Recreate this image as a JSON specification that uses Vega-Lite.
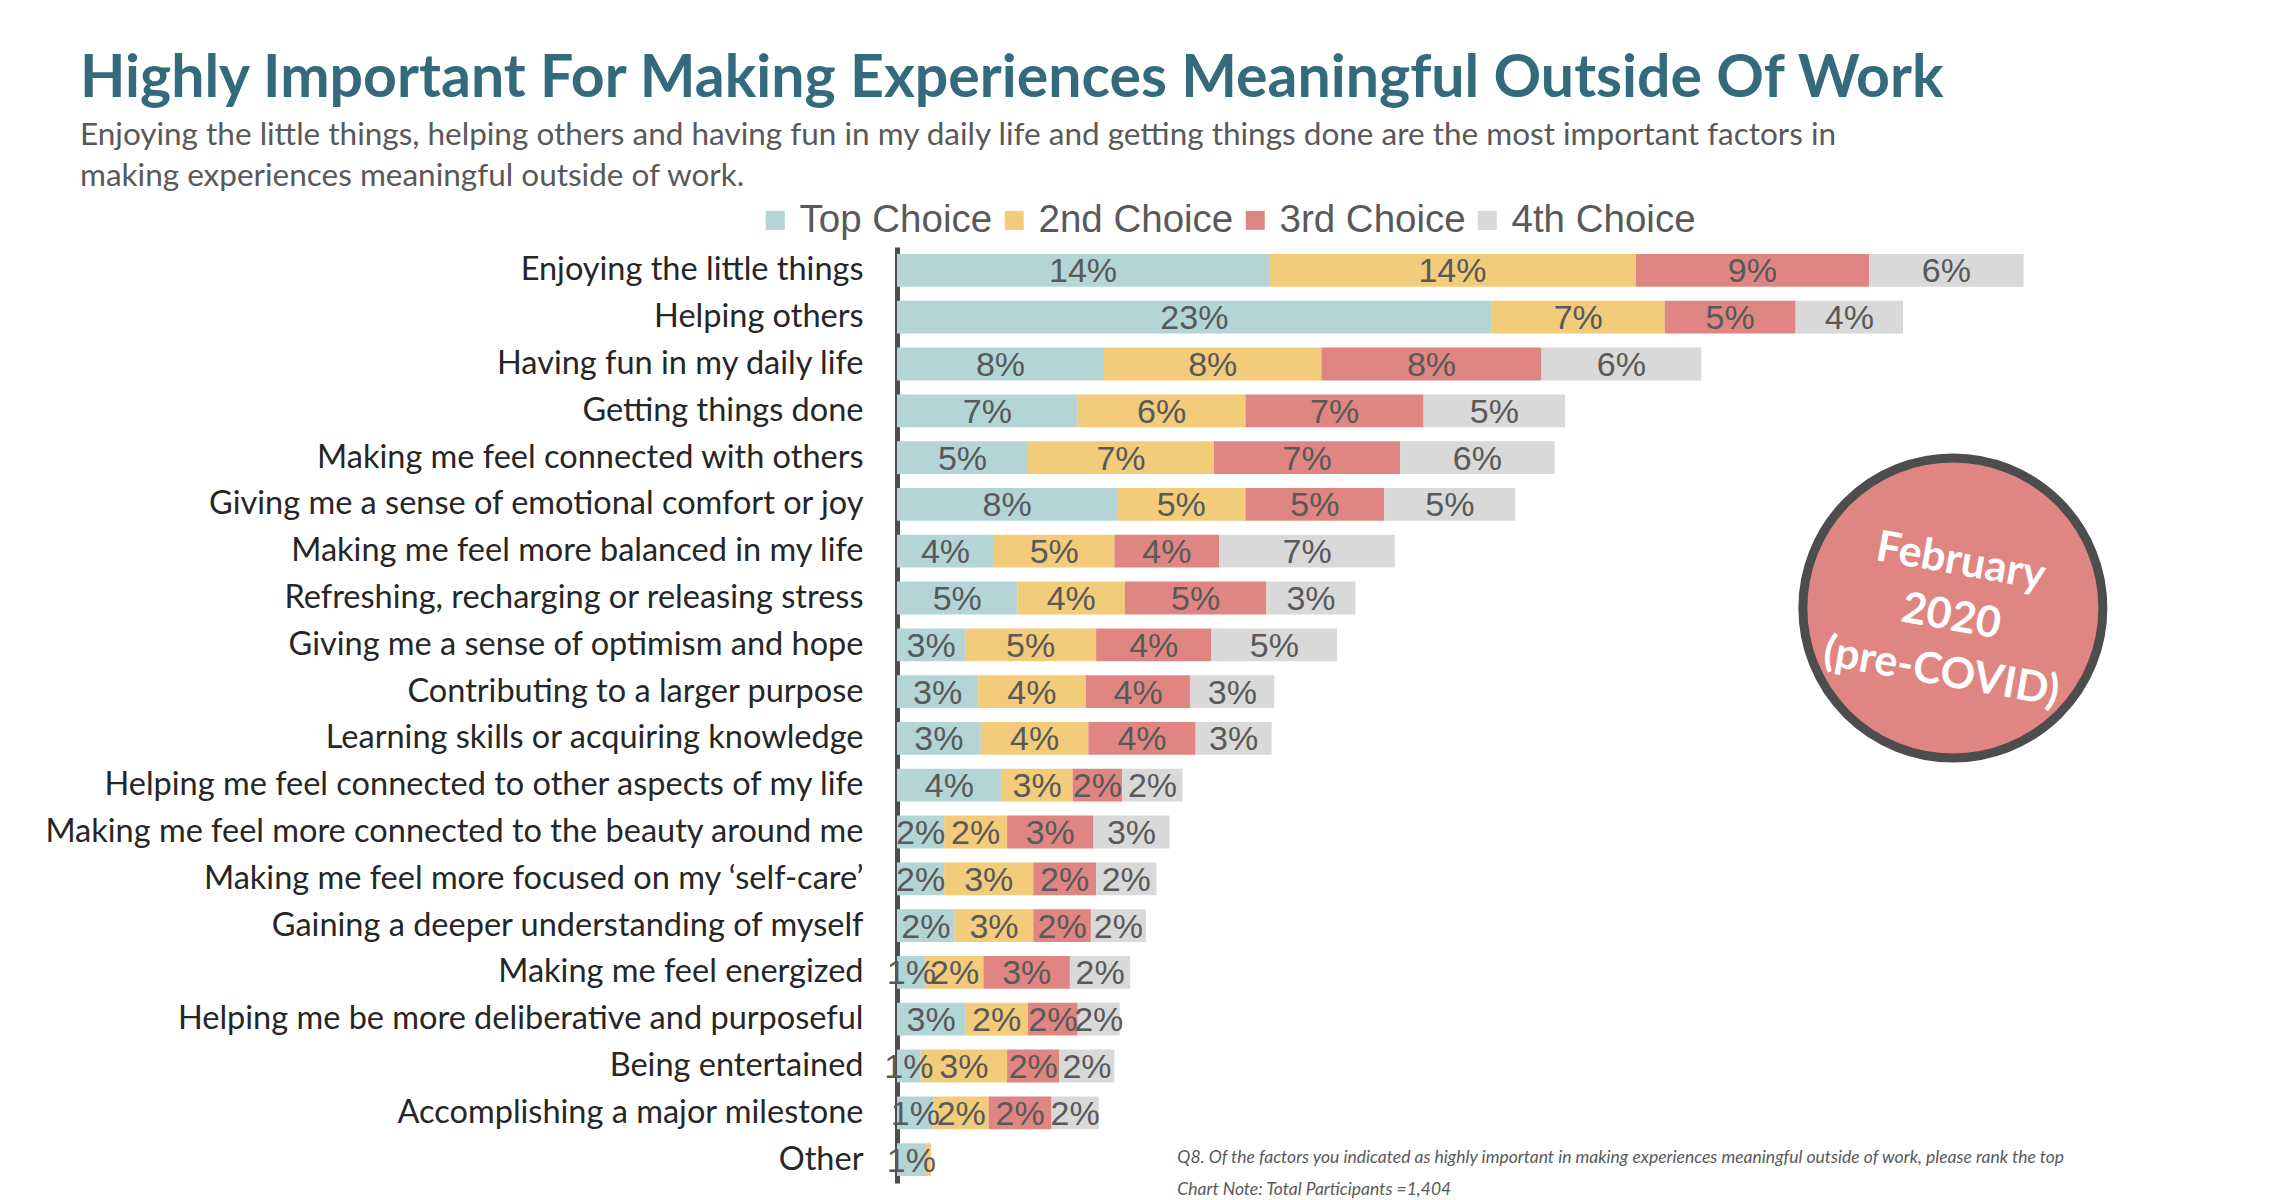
{
  "$schema": "https://vega.github.io/schema/vega-lite/v6.json",
  "width": 1310,
  "height": 936,
  "autosize": {"type": "none"},
  "padding": {"left": 897, "top": 247, "right": 69, "bottom": 17},
  "background": "white",
  "config": {"view": {"stroke": null}, "font": "Lato"},
  "title": {
    "text": "Highly Important For Making Experiences Meaningful Outside Of Work",
    "subtitle": [
      "Enjoying the little things, helping others and having fun in my daily life and getting things done are the most important factors in",
      "making experiences meaningful outside of work."
    ],
    "anchor": "start",
    "frame": "group",
    "dx": -817,
    "offset": 9,
    "font": "Lato",
    "fontSize": 59,
    "fontWeight": "bold",
    "color": "#336b7d",
    "subtitleFont": "Lato",
    "subtitleFontSize": 31.5,
    "subtitleColor": "#595959",
    "subtitleLineHeight": 41,
    "subtitlePadding": 11
  },
  "datasets": {
    "shares": [
      {"item": "Enjoying the little things", "choice": "Top Choice", "rank": 1, "value": 0.142},
      {"item": "Enjoying the little things", "choice": "2nd Choice", "rank": 2, "value": 0.140},
      {"item": "Enjoying the little things", "choice": "3rd Choice", "rank": 3, "value": 0.089},
      {"item": "Enjoying the little things", "choice": "4th Choice", "rank": 4, "value": 0.059},
      {"item": "Helping others", "choice": "Top Choice", "rank": 1, "value": 0.227},
      {"item": "Helping others", "choice": "2nd Choice", "rank": 2, "value": 0.066},
      {"item": "Helping others", "choice": "3rd Choice", "rank": 3, "value": 0.050},
      {"item": "Helping others", "choice": "4th Choice", "rank": 4, "value": 0.041},
      {"item": "Having fun in my daily life", "choice": "Top Choice", "rank": 1, "value": 0.079},
      {"item": "Having fun in my daily life", "choice": "2nd Choice", "rank": 2, "value": 0.083},
      {"item": "Having fun in my daily life", "choice": "3rd Choice", "rank": 3, "value": 0.084},
      {"item": "Having fun in my daily life", "choice": "4th Choice", "rank": 4, "value": 0.061},
      {"item": "Getting things done", "choice": "Top Choice", "rank": 1, "value": 0.069},
      {"item": "Getting things done", "choice": "2nd Choice", "rank": 2, "value": 0.064},
      {"item": "Getting things done", "choice": "3rd Choice", "rank": 3, "value": 0.068},
      {"item": "Getting things done", "choice": "4th Choice", "rank": 4, "value": 0.054},
      {"item": "Making me feel connected with others", "choice": "Top Choice", "rank": 1, "value": 0.050},
      {"item": "Making me feel connected with others", "choice": "2nd Choice", "rank": 2, "value": 0.071},
      {"item": "Making me feel connected with others", "choice": "3rd Choice", "rank": 3, "value": 0.071},
      {"item": "Making me feel connected with others", "choice": "4th Choice", "rank": 4, "value": 0.059},
      {"item": "Giving me a sense of emotional comfort or joy", "choice": "Top Choice", "rank": 1, "value": 0.084},
      {"item": "Giving me a sense of emotional comfort or joy", "choice": "2nd Choice", "rank": 2, "value": 0.049},
      {"item": "Giving me a sense of emotional comfort or joy", "choice": "3rd Choice", "rank": 3, "value": 0.053},
      {"item": "Giving me a sense of emotional comfort or joy", "choice": "4th Choice", "rank": 4, "value": 0.050},
      {"item": "Making me feel more balanced in my life", "choice": "Top Choice", "rank": 1, "value": 0.037},
      {"item": "Making me feel more balanced in my life", "choice": "2nd Choice", "rank": 2, "value": 0.046},
      {"item": "Making me feel more balanced in my life", "choice": "3rd Choice", "rank": 3, "value": 0.040},
      {"item": "Making me feel more balanced in my life", "choice": "4th Choice", "rank": 4, "value": 0.067},
      {"item": "Refreshing, recharging or releasing stress", "choice": "Top Choice", "rank": 1, "value": 0.046},
      {"item": "Refreshing, recharging or releasing stress", "choice": "2nd Choice", "rank": 2, "value": 0.041},
      {"item": "Refreshing, recharging or releasing stress", "choice": "3rd Choice", "rank": 3, "value": 0.054},
      {"item": "Refreshing, recharging or releasing stress", "choice": "4th Choice", "rank": 4, "value": 0.034},
      {"item": "Giving me a sense of optimism and hope", "choice": "Top Choice", "rank": 1, "value": 0.026},
      {"item": "Giving me a sense of optimism and hope", "choice": "2nd Choice", "rank": 2, "value": 0.050},
      {"item": "Giving me a sense of optimism and hope", "choice": "3rd Choice", "rank": 3, "value": 0.044},
      {"item": "Giving me a sense of optimism and hope", "choice": "4th Choice", "rank": 4, "value": 0.048},
      {"item": "Contributing to a larger purpose", "choice": "Top Choice", "rank": 1, "value": 0.031},
      {"item": "Contributing to a larger purpose", "choice": "2nd Choice", "rank": 2, "value": 0.041},
      {"item": "Contributing to a larger purpose", "choice": "3rd Choice", "rank": 3, "value": 0.040},
      {"item": "Contributing to a larger purpose", "choice": "4th Choice", "rank": 4, "value": 0.032},
      {"item": "Learning skills or acquiring knowledge", "choice": "Top Choice", "rank": 1, "value": 0.032},
      {"item": "Learning skills or acquiring knowledge", "choice": "2nd Choice", "rank": 2, "value": 0.041},
      {"item": "Learning skills or acquiring knowledge", "choice": "3rd Choice", "rank": 3, "value": 0.041},
      {"item": "Learning skills or acquiring knowledge", "choice": "4th Choice", "rank": 4, "value": 0.029},
      {"item": "Helping me feel connected to other aspects of my life", "choice": "Top Choice", "rank": 1, "value": 0.040},
      {"item": "Helping me feel connected to other aspects of my life", "choice": "2nd Choice", "rank": 2, "value": 0.027},
      {"item": "Helping me feel connected to other aspects of my life", "choice": "3rd Choice", "rank": 3, "value": 0.019},
      {"item": "Helping me feel connected to other aspects of my life", "choice": "4th Choice", "rank": 4, "value": 0.023},
      {"item": "Making me feel more connected to the beauty around me", "choice": "Top Choice", "rank": 1, "value": 0.018},
      {"item": "Making me feel more connected to the beauty around me", "choice": "2nd Choice", "rank": 2, "value": 0.024},
      {"item": "Making me feel more connected to the beauty around me", "choice": "3rd Choice", "rank": 3, "value": 0.033},
      {"item": "Making me feel more connected to the beauty around me", "choice": "4th Choice", "rank": 4, "value": 0.029},
      {"item": "Making me feel more focused on my ‘self-care’", "choice": "Top Choice", "rank": 1, "value": 0.018},
      {"item": "Making me feel more focused on my ‘self-care’", "choice": "2nd Choice", "rank": 2, "value": 0.034},
      {"item": "Making me feel more focused on my ‘self-care’", "choice": "3rd Choice", "rank": 3, "value": 0.024},
      {"item": "Making me feel more focused on my ‘self-care’", "choice": "4th Choice", "rank": 4, "value": 0.023},
      {"item": "Gaining a deeper understanding of myself", "choice": "Top Choice", "rank": 1, "value": 0.022},
      {"item": "Gaining a deeper understanding of myself", "choice": "2nd Choice", "rank": 2, "value": 0.030},
      {"item": "Gaining a deeper understanding of myself", "choice": "3rd Choice", "rank": 3, "value": 0.022},
      {"item": "Gaining a deeper understanding of myself", "choice": "4th Choice", "rank": 4, "value": 0.021},
      {"item": "Making me feel energized", "choice": "Top Choice", "rank": 1, "value": 0.011},
      {"item": "Making me feel energized", "choice": "2nd Choice", "rank": 2, "value": 0.022},
      {"item": "Making me feel energized", "choice": "3rd Choice", "rank": 3, "value": 0.033},
      {"item": "Making me feel energized", "choice": "4th Choice", "rank": 4, "value": 0.023},
      {"item": "Helping me be more deliberative and purposeful", "choice": "Top Choice", "rank": 1, "value": 0.026},
      {"item": "Helping me be more deliberative and purposeful", "choice": "2nd Choice", "rank": 2, "value": 0.024},
      {"item": "Helping me be more deliberative and purposeful", "choice": "3rd Choice", "rank": 3, "value": 0.019},
      {"item": "Helping me be more deliberative and purposeful", "choice": "4th Choice", "rank": 4, "value": 0.016},
      {"item": "Being entertained", "choice": "Top Choice", "rank": 1, "value": 0.009},
      {"item": "Being entertained", "choice": "2nd Choice", "rank": 2, "value": 0.033},
      {"item": "Being entertained", "choice": "3rd Choice", "rank": 3, "value": 0.020},
      {"item": "Being entertained", "choice": "4th Choice", "rank": 4, "value": 0.021},
      {"item": "Accomplishing a major milestone", "choice": "Top Choice", "rank": 1, "value": 0.014},
      {"item": "Accomplishing a major milestone", "choice": "2nd Choice", "rank": 2, "value": 0.021},
      {"item": "Accomplishing a major milestone", "choice": "3rd Choice", "rank": 3, "value": 0.024},
      {"item": "Accomplishing a major milestone", "choice": "4th Choice", "rank": 4, "value": 0.018},
      {"item": "Other", "choice": "Top Choice", "rank": 1, "value": 0.011},
      {"item": "Other", "choice": "2nd Choice", "rank": 2, "value": 0.002}
    ],
    "badge": [
      {"item": "Refreshing, recharging or releasing stress", "pos": 0.403, "label": "February\n2020\n(pre-COVID)"}
    ],
    "notes": [
      {"item": "Other", "pos": 0.107, "note": "Q8. Of the factors you indicated as highly important in making experiences meaningful outside of work, please rank the top\nChart Note: Total Participants =1,404"}
    ]
  },
  "encoding": {
    "y": {
      "field": "item",
      "type": "nominal",
      "sort": null,
      "scale": {"paddingInner": 0.3, "paddingOuter": 0.15},
      "axis": {
        "title": null,
        "ticks": false,
        "domain": true,
        "domainColor": "#4d4d4d",
        "domainWidth": 5,
        "labelFont": "Lato",
        "labelFontSize": 32.5,
        "labelColor": "#262626",
        "labelPadding": 34,
        "labelLimit": 1000
      }
    }
  },
  "layer": [
    {
      "data": {"name": "shares"},
      "transform": [
        {"stack": "value", "groupby": ["item"], "sort": [{"field": "rank", "order": "ascending"}], "as": ["x0", "x1"]}
      ],
      "mark": {"type": "bar"},
      "encoding": {
        "x": {"field": "x0", "type": "quantitative", "scale": {"domain": [0, 0.5], "nice": false}, "axis": null},
        "x2": {"field": "x1"},
        "color": {
          "field": "choice",
          "type": "nominal",
          "scale": {
            "domain": ["Top Choice", "2nd Choice", "3rd Choice", "4th Choice"],
            "range": ["#b3d5d6", "#f2cb7b", "#e08682", "#d9d9d9"]
          },
          "legend": {
            "title": null,
            "orient": "none",
            "direction": "horizontal",
            "legendX": -141,
            "legendY": -46,
            "symbolType": "square",
            "symbolSize": 361,
            "symbolStrokeWidth": 0,
            "symbolOpacity": 1,
            "labelFont": "Liberation Sans",
            "labelFontSize": 38.5,
            "labelColor": "#595959",
            "labelOffset": 5,
            "columnPadding": 2,
            "labelLimit": 400
          }
        }
      }
    },
    {
      "data": {"name": "shares"},
      "transform": [
        {"filter": "datum.value >= 0.005"},
        {"stack": "value", "groupby": ["item"], "sort": [{"field": "rank", "order": "ascending"}], "as": ["x0", "x1"]},
        {"fold": ["x0", "x1"], "as": ["edge", "bound"]}
      ],
      "mark": {"type": "text", "font": "Liberation Sans", "fontSize": 34, "color": "#595959", "align": "center", "baseline": "middle", "dy": 2},
      "encoding": {
        "x": {"aggregate": "mean", "field": "bound", "type": "quantitative"},
        "detail": {"field": "choice"},
        "text": {"aggregate": "max", "field": "value", "type": "quantitative", "format": ".0%"}
      }
    },
    {
      "data": {"name": "badge"},
      "mark": {"type": "point", "shape": "circle", "filled": true, "size": 90000, "fill": "#e08682", "stroke": "#4d4d4d", "strokeWidth": 9, "opacity": 1, "yOffset": 10},
      "encoding": {
        "x": {"field": "pos", "type": "quantitative"}
      }
    },
    {
      "data": {"name": "badge"},
      "mark": {"type": "text", "font": "Lato", "fontWeight": "bold", "fontSize": 43, "color": "white", "angle": 10, "align": "center", "baseline": "middle", "lineBreak": "\n", "lineHeight": 56, "xOffset": 8, "yOffset": -36},
      "encoding": {
        "x": {"field": "pos", "type": "quantitative"},
        "text": {"field": "label"}
      }
    },
    {
      "data": {"name": "notes"},
      "mark": {"type": "text", "font": "Lato", "fontStyle": "italic", "fontSize": 17.5, "color": "#595959", "align": "left", "baseline": "middle", "lineBreak": "\n", "lineHeight": 32, "dy": -2},
      "encoding": {
        "x": {"field": "pos", "type": "quantitative"},
        "text": {"field": "note"}
      }
    }
  ]
}
